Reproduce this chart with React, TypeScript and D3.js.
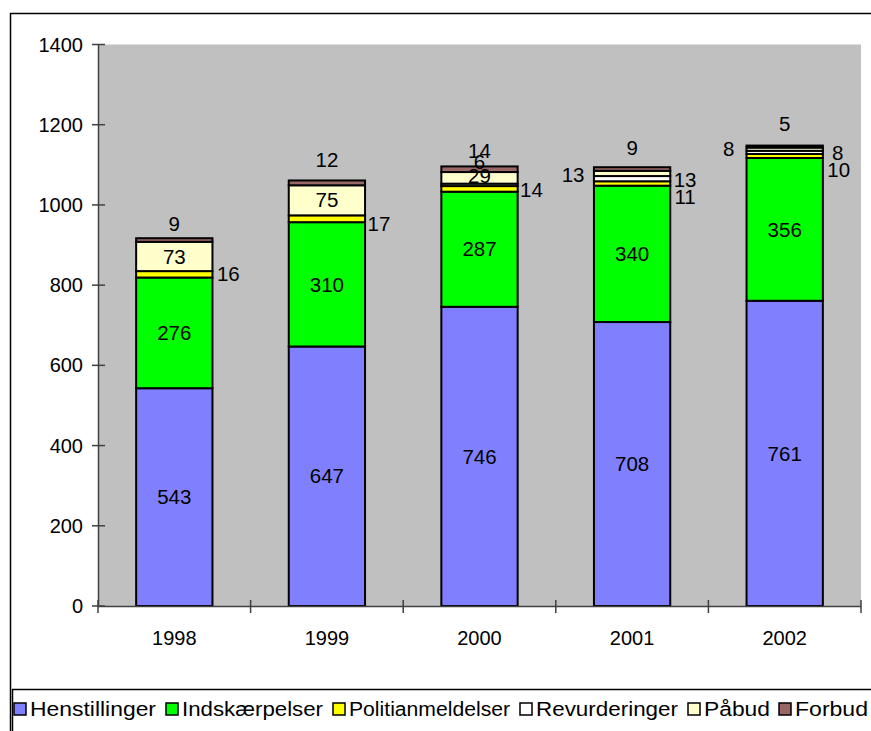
import React from "react";
import * as d3 from "d3";

const years = ["1998", "1999", "2000", "2001", "2002"];
const seriesNames = ["Henstillinger", "Indskærpelser", "Politianmeldelser", "Revurderinger", "Påbud", "Forbud"];
const henstillinger = [543, 647, 746, 708, 761];
const indskaerpelser = [276, 310, 287, 340, 356];
const politianmeldelser = [16, 17, 14, 11, 10];
const revurderinger = [0, 0, 6, 13, 8];
const paabud = [73, 75, 29, 13, 8];
const forbud = [9, 12, 14, 9, 5];
const yTicks = [0, 200, 400, 600, 800, 1000, 1200, 1400];

const colors = ["#8080ff", "#00ff00", "#ffff00", "#ffffff", "#ffffcc", "#996666"];

// label offsets [dx, dy] from segment center (null = hidden)
const labelOffsets: ([number, number] | null)[][] = [
  [[0, 0], [0, 0], [54, 0], null, [0, 0], [0, -16]],
  [[0, 0], [0, 0], [52, 5], null, [0, 0], [0, -23]],
  [[0, 0], [0, 0], [52, 1], [0, -23], [0, -2], [0, -18]],
  [[0, 0], [0, 0], [53, 13], [53, 1], [-59, 1], [0, -21]],
  [[0, 0], [0, 0], [54, 14], [53, 0], [-56, 0], [0, -23]],
];

const legendX = [14, 166, 333, 520, 688, 779];
const legendTextW = [126, 141, 161, 142, 66, 73];

export default function App() {
  const seriesData = [henstillinger, indskaerpelser, politianmeldelser, revurderinger, paabud, forbud];
  const rows = years.map((y, i) => {
    const r: any = { year: y };
    seriesNames.forEach((s, k) => (r[s] = seriesData[k][i]));
    return r;
  });
  const stack = d3.stack<any>().keys(seriesNames)(rows);

  const x = d3.scaleBand().domain(years).range([98, 861]).paddingInner(0).paddingOuter(0);
  const y = d3.scaleLinear().domain([0, 1400]).range([606, 44.5]);
  const barW = x.bandwidth() / 2;
  const font = "Arial, 'Liberation Sans', sans-serif";

  return (
    <svg width={871} height={731} style={{ position: "absolute", left: 0, top: 0, background: "#fff" }}>
      <rect x={10.5} y={13.5} width={880} height={740} fill="#fff" stroke="#000" strokeWidth={1.5} />
      <rect x={98} y={44.5} width={763} height={606 - 44.5} fill="#c0c0c0" />
      {stack.map((layer, k) =>
        layer.map((d, i) => {
          const yr = years[i];
          const cx = (x(yr) as number) + x.bandwidth() / 2;
          const y0 = y(d[0]);
          const y1 = y(d[1]);
          if (d[1] - d[0] <= 0) return null;
          return (
            <rect
              key={`${k}-${i}`}
              x={cx - barW / 2}
              y={y1}
              width={barW}
              height={y0 - y1}
              fill={colors[k]}
              stroke="#000"
              strokeWidth={2}
            />
          );
        })
      )}
      {/* axes */}
      <line x1={98.5} x2={98.5} y1={44.5} y2={606} stroke="#404040" strokeWidth={1.5} />
      <line x1={98} x2={861} y1={606.5} y2={606.5} stroke="#404040" strokeWidth={1.5} />
      {yTicks.map((t) => (
        <g key={t}>
          <line x1={92} x2={105} y1={y(t)} y2={y(t)} stroke="#404040" strokeWidth={1.5} />
          <text x={83} y={y(t)} dy="0.35em" textAnchor="end" fontFamily={font} fontSize={20}>
            {t}
          </text>
        </g>
      ))}
      {d3.range(years.length + 1).map((j) => {
        const xx = 98 + j * x.bandwidth();
        return <line key={j} x1={xx} x2={xx} y1={600} y2={613} stroke="#404040" strokeWidth={1.5} />;
      })}
      {years.map((yr) => (
        <text
          key={yr}
          x={(x(yr) as number) + x.bandwidth() / 2}
          y={638}
          dy="0.35em"
          textAnchor="middle"
          fontFamily={font}
          fontSize={20}
        >
          {yr}
        </text>
      ))}
      {/* value labels */}
      {stack.map((layer, k) =>
        layer.map((d, i) => {
          const off = labelOffsets[i][k];
          if (!off || d[1] - d[0] <= 0) return null;
          const yr = years[i];
          const cx = (x(yr) as number) + x.bandwidth() / 2;
          const cy = (y(d[0]) + y(d[1])) / 2;
          return (
            <text
              key={`l${k}-${i}`}
              x={cx + off[0]}
              y={cy + off[1]}
              dy="0.35em"
              textAnchor="middle"
              fontFamily={font}
              fontSize={20.5}
            >
              {d[1] - d[0]}
            </text>
          );
        })
      )}
      {/* legend */}
      <rect x={12.5} y={689.5} width={880} height={60} fill="#fff" stroke="#000" strokeWidth={1.5} />
      {seriesNames.map((s, k) => (
        <g key={s}>
          <rect x={legendX[k]} y={703} width={12} height={12} fill={colors[k]} stroke="#000" strokeWidth={1.5} />
          <text
            x={legendX[k] + 16}
            y={709}
            dy="0.35em"
            fontFamily={font}
            fontSize={20}
            textLength={legendTextW[k]}
            lengthAdjust="spacingAndGlyphs"
          >
            {s}
          </text>
        </g>
      ))}
    </svg>
  );
}
